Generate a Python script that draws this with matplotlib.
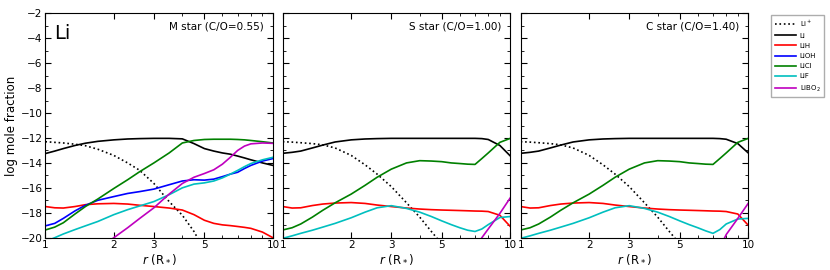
import numpy as np
import matplotlib
matplotlib.use("Agg")
import matplotlib.pyplot as plt
from matplotlib.ticker import FixedLocator, MultipleLocator, NullFormatter

nan = np.nan

r = [1.0, 1.1, 1.2, 1.35, 1.5, 1.7, 2.0, 2.3, 2.6, 3.0, 3.5, 4.0, 4.5, 5.0,
     5.5, 6.0, 6.5, 7.0, 7.5, 8.0, 9.0, 10.0]

# M star (C/O=0.55)
m_li_plus = [-12.3, -12.35, -12.4, -12.5, -12.62, -12.9, -13.4, -14.0, -14.6, -15.65, -17.1,
             -18.2, -19.5, -21.0, nan, nan, nan, nan, nan, nan, nan, nan]
m_li = [-13.25, -13.05, -12.85, -12.6, -12.42, -12.27, -12.15, -12.08, -12.05, -12.03, -12.03,
        -12.07, -12.45, -12.85, -13.05, -13.2, -13.3, -13.45, -13.6, -13.75, -14.0, -14.2]
m_lih = [-17.5, -17.6, -17.62, -17.5, -17.35, -17.28, -17.25, -17.3, -17.4, -17.5, -17.62,
         -17.78, -18.15, -18.6, -18.85, -18.97, -19.03, -19.1, -19.17, -19.25, -19.55, -20.0]
m_lioh = [-19.05, -18.85, -18.45, -17.85, -17.4, -17.0, -16.7, -16.45, -16.3, -16.1, -15.75,
          -15.45, -15.35, -15.38, -15.3, -15.1, -14.9, -14.75, -14.45, -14.2, -13.85, -13.65]
m_licl = [-19.38, -19.15, -18.8, -18.1, -17.5, -16.9, -16.05, -15.35, -14.7, -14.0, -13.2,
          -12.4, -12.2, -12.12, -12.1, -12.1, -12.1, -12.12, -12.15, -12.2, -12.3, -12.4]
m_lif = [-20.3, -20.0, -19.7, -19.35, -19.05, -18.7, -18.15, -17.75, -17.45, -17.1, -16.55,
         -16.0, -15.7, -15.6, -15.45, -15.2, -14.9, -14.6, -14.3, -14.05, -13.75, -13.55]
m_libo2 = [nan, nan, nan, nan, nan, -20.9, -20.0, -19.2, -18.45, -17.6, -16.5,
           -15.65, -15.15, -14.85, -14.55, -14.1, -13.55, -13.0, -12.65, -12.47, -12.4, -12.43]

# S star (C/O=1.00)
s_li_plus = [-12.3, -12.33, -12.38, -12.45, -12.55, -12.8, -13.4, -14.15, -14.9, -15.9, -17.2,
             -18.35, -19.5, -20.5, nan, nan, nan, nan, nan, nan, nan, nan]
s_li = [-13.23, -13.15, -13.05, -12.8, -12.57, -12.32, -12.15, -12.08, -12.05, -12.03, -12.03,
        -12.03, -12.03, -12.03, -12.03, -12.03, -12.03, -12.03, -12.05, -12.12, -12.6, -13.44]
s_lih = [-17.5, -17.62, -17.6, -17.42, -17.3, -17.22, -17.18, -17.25, -17.38, -17.5, -17.62,
         -17.7, -17.75, -17.78, -17.8, -17.82, -17.84, -17.86, -17.87, -17.9, -18.2, -19.1]
s_licl = [-19.38, -19.2, -18.9, -18.35, -17.8, -17.2, -16.5, -15.8, -15.15, -14.5, -14.0,
          -13.82, -13.85, -13.9, -14.0, -14.05, -14.1, -14.12, -13.65, -13.2, -12.35, -12.03]
s_lif = [-20.05, -19.85, -19.65, -19.4, -19.15, -18.85, -18.4, -17.95, -17.6, -17.43, -17.65,
         -17.95, -18.3, -18.65, -18.95, -19.2, -19.4, -19.5, -19.3, -18.95, -18.38, -18.3]
s_libo2 = [nan, nan, nan, nan, nan, nan, nan, nan, nan, nan, nan,
           nan, nan, nan, nan, nan, nan, -21.0, -20.0, -19.3, -18.05, -16.8]

# C star (C/O=1.40)
c_li_plus = [-12.3, -12.33, -12.38, -12.45, -12.55, -12.8, -13.4, -14.15, -14.9, -15.9, -17.2,
             -18.35, -19.5, -20.5, nan, nan, nan, nan, nan, nan, nan, nan]
c_li = [-13.23, -13.15, -13.05, -12.8, -12.57, -12.32, -12.15, -12.08, -12.05, -12.03, -12.03,
        -12.03, -12.03, -12.03, -12.03, -12.03, -12.03, -12.03, -12.05, -12.1, -12.45, -13.2]
c_lih = [-17.5, -17.62, -17.6, -17.42, -17.3, -17.22, -17.18, -17.25, -17.38, -17.5, -17.62,
         -17.7, -17.75, -17.78, -17.8, -17.82, -17.84, -17.86, -17.87, -17.9, -18.1, -19.0]
c_licl = [-19.38, -19.2, -18.9, -18.35, -17.8, -17.2, -16.5, -15.8, -15.15, -14.5, -14.0,
          -13.82, -13.85, -13.9, -14.0, -14.05, -14.1, -14.12, -13.65, -13.2, -12.35, -12.03]
c_lif = [-20.05, -19.85, -19.65, -19.4, -19.15, -18.85, -18.4, -17.95, -17.6, -17.43, -17.65,
         -17.95, -18.3, -18.65, -18.95, -19.2, -19.45, -19.65, -19.35, -18.9, -18.5, -18.45]
c_libo2 = [nan, nan, nan, nan, nan, nan, nan, nan, nan, nan, nan,
           nan, nan, nan, nan, nan, nan, nan, -20.8, -19.75, -18.45, -17.24]

titles = ["M star (C/O=0.55)", "S star (C/O=1.00)", "C star (C/O=1.40)"]
labels = ["Li$^+$", "Li", "LiH", "LiOH", "LiCl", "LiF", "LiBO$_2$"]
colors = ["k", "k", "r", "b", "g", "c", "m"]
styles = [":", "-", "-", "-", "-", "-", "-"]

panels = [
    [m_li_plus, m_li, m_lih, m_lioh, m_licl, m_lif, m_libo2],
    [s_li_plus, s_li, s_lih, None, s_licl, s_lif, s_libo2],
    [c_li_plus, c_li, c_lih, None, c_licl, c_lif, c_libo2],
]

fig = plt.figure(figsize=(8.3, 2.7), dpi=100)
lefts = [0.0546, 0.3406, 0.6273]

handles = []
for i, series in enumerate(panels):
    ax = fig.add_axes([lefts[i], 0.1196, 0.2742, 0.831])
    for j, y in enumerate(series):
        if y is None:
            continue
        ln, = ax.plot(r, y, color=colors[j], ls=styles[j], lw=1.2, label=labels[j])
        if i == 0:
            handles.append(ln)

    ax.set_xscale("log")
    ax.set_xlim(1, 10)
    ax.set_ylim(-20, -2)
    ax.xaxis.set_major_locator(FixedLocator([1, 2, 3, 5, 10]))
    ax.xaxis.set_minor_locator(FixedLocator([4, 6, 7, 8, 9]))
    ax.xaxis.set_minor_formatter(NullFormatter())
    ax.set_xticklabels(["1", "2", "3", "5", "10"])
    ax.yaxis.set_major_locator(MultipleLocator(2))
    ax.yaxis.set_minor_locator(MultipleLocator(1))
    ax.tick_params(which="both", direction="in", top=True, right=True, labelsize=7.5)
    ax.tick_params(which="major", length=4, pad=2)
    ax.tick_params(which="minor", length=2)
    if i > 0:
        ax.set_yticklabels([])
    else:
        ax.set_ylabel("log mole fraction", fontsize=8.5, labelpad=2)
        ax.text(0.04, 0.91, "Li", transform=ax.transAxes, fontsize=14, va="center")
    ax.set_xlabel("$r$ (R$_*$)", fontsize=8.5, labelpad=1)
    ax.text(0.96, 0.943, titles[i], transform=ax.transAxes, fontsize=7.5,
            ha="right", va="center")

fig.legend(handles=handles, loc="upper left", bbox_to_anchor=(0.925, 0.958),
           fontsize=5, frameon=True, fancybox=False, edgecolor="0.6",
           handlelength=3.0, handletextpad=0.6, labelspacing=0.6, borderpad=0.5)

plt.savefig("out.png", dpi=100)
